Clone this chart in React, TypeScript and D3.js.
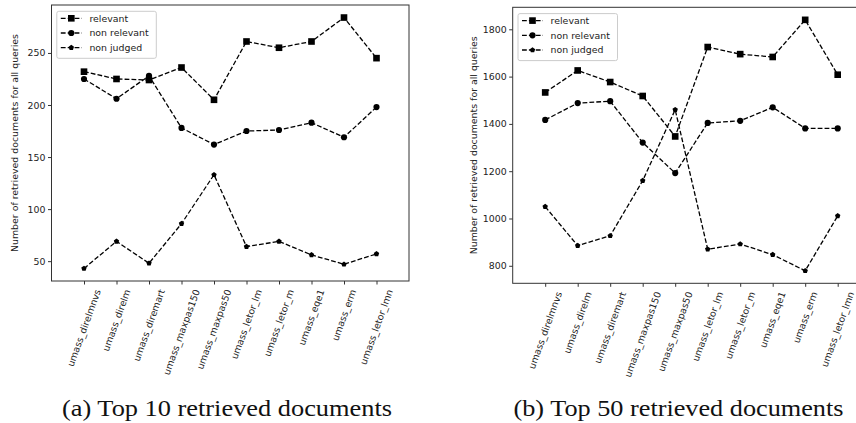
import React, { useRef, useEffect } from 'react';
import * as d3 from 'd3';

/* ── Data ────────────────────────────────────────────────────── */
const runs = [
  'umass_direlmnvs',
  'umass_direlm',
  'umass_diremart',
  'umass_maxpas150',
  'umass_maxpas50',
  'umass_letor_lm',
  'umass_letor_m',
  'umass_eqe1',
  'umass_erm',
  'umass_letor_lmn',
];

const top10Relevant = [232, 225, 224, 236, 205, 261, 255, 261, 284, 245];
const top10NonRelevant = [225, 206, 228, 178, 162, 175, 176, 183, 169, 198];
const top10NonJudged = [43, 69, 48, 86, 133, 64, 69, 56, 47, 57];

const top50Relevant = [1533, 1626, 1577, 1518, 1347, 1725, 1695, 1683, 1840, 1608];
const top50NonRelevant = [1417, 1488, 1496, 1321, 1192, 1404, 1413, 1470, 1381, 1381];
const top50NonJudged = [1050, 885, 927, 1160, 1460, 870, 892, 847, 779, 1011];

const seriesNames = ['relevant', 'non relevant', 'non judged'];
const yLabel = 'Number of retrieved documents for all queries';

/* ── Layout ──────────────────────────────────────────────────── */
const W = 856;
const H = 423;
const FONT = '"DejaVu Sans", sans-serif';
const FS = 9.4;

interface Panel {
  x0: number;
  x1: number;
  y0: number;
  y1: number;
  labelX: number;
  captionX: number;
  caption: string;
  series: number[][];
}

const panels: Panel[] = [
  {
    x0: 51.5, x1: 409, y0: 5, y1: 281, labelX: 15, captionX: 227,
    caption: '(a) Top 10 retrieved documents',
    series: [top10Relevant, top10NonRelevant, top10NonJudged],
  },
  {
    x0: 512.7, x1: 870.2, y0: 7.3, y1: 283.3, labelX: 474, captionX: 678.5,
    caption: '(b) Top 50 retrieved documents',
    series: [top50Relevant, top50NonRelevant, top50NonJudged],
  },
];

// pentagon marker (matplotlib 'p')
const pentagon: d3.SymbolType = {
  draw(ctx, size) {
    const r = Math.sqrt(size / 2.3776);
    for (let i = 0; i < 5; i++) {
      const a = -Math.PI / 2 + (i * 2 * Math.PI) / 5;
      const px = r * Math.cos(a);
      const py = r * Math.sin(a);
      if (i === 0) ctx.moveTo(px, py);
      else ctx.lineTo(px, py);
    }
    ctx.closePath();
  },
};

const markers = [
  d3.symbol(d3.symbolSquare, 44)(),
  d3.symbol(d3.symbolCircle, 30)(),
  d3.symbol(pentagon, 19)(),
];

const App: React.FC = () => {
  const ref = useRef<SVGSVGElement | null>(null);

  useEffect(() => {
    if (!ref.current) return;
    const svg = d3.select(ref.current);
    svg.selectAll('*').remove();

    panels.forEach(p => {
      const all = p.series.flat();
      const lo = d3.min(all)!;
      const hi = d3.max(all)!;
      const pad = (hi - lo) * 0.05;

      const x = d3.scaleLinear().domain([-1, 10]).range([p.x0, p.x1]);
      const y = d3.scaleLinear().domain([lo - pad, hi + pad]).range([p.y1, p.y0]);

      const g = svg.append('g');

      // lines + markers
      p.series.forEach((vals, si) => {
        const line = d3
          .line<number>()
          .x((_, i) => x(i))
          .y(d => y(d));
        g.append('path')
          .attr('d', line(vals)!)
          .attr('fill', 'none')
          .attr('stroke', '#000')
          .attr('stroke-width', 1.3)
          .attr('stroke-dasharray', '4.8,2.1');
        g.selectAll(null)
          .data(vals)
          .enter()
          .append('path')
          .attr('d', markers[si]!)
          .attr('transform', (d, i) => `translate(${x(i)},${y(d)})`)
          .attr('fill', '#000');
      });

      // frame
      g.append('rect')
        .attr('x', p.x0)
        .attr('y', p.y0)
        .attr('width', p.x1 - p.x0)
        .attr('height', p.y1 - p.y0)
        .attr('fill', 'none')
        .attr('stroke', '#333')
        .attr('stroke-width', 1);

      // y axis
      const ya = g
        .append('g')
        .attr('transform', `translate(${p.x0},0)`)
        .call(
          d3.axisLeft(y).ticks(5).tickFormat(d3.format('d')).tickSize(3.5).tickPadding(2.5)
        );
      ya.select('.domain').remove();
      ya.selectAll('line').attr('stroke', '#333');
      ya.selectAll('text')
        .attr('font-family', FONT)
        .attr('font-size', FS)
        .attr('fill', '#222');

      // x axis ticks
      const xa = g
        .append('g')
        .attr('transform', `translate(0,${p.y1})`)
        .call(
          d3
            .axisBottom(x)
            .tickValues(d3.range(runs.length))
            .tickSize(3.5)
            .tickFormat(() => '')
        );
      xa.select('.domain').remove();
      xa.selectAll('line').attr('stroke', '#333');

      // rotated run labels, bbox centred under tick (matplotlib rotation=70)
      const th = (70 * Math.PI) / 180;
      const top = p.y1 + 7;
      runs.forEach((r, i) => {
        const t = g
          .append('text')
          .attr('font-family', FONT)
          .attr('font-size', FS)
          .attr('fill', '#222')
          .attr('text-anchor', 'middle')
          .attr('dy', '0.35em')
          .text(r);
        const L = (t.node() as SVGTextElement).getComputedTextLength();
        const hBox = L * Math.sin(th) + FS * 1.1 * Math.cos(th);
        t.attr('transform', `translate(${x(i)},${top + hBox / 2}) rotate(-70)`);
      });

      // y label
      g.append('text')
        .attr('transform', `translate(${p.labelX},${(p.y0 + p.y1) / 2}) rotate(-90)`)
        .attr('text-anchor', 'middle')
        .attr('dy', '0.35em')
        .attr('font-family', FONT)
        .attr('font-size', FS)
        .attr('fill', '#222')
        .text(yLabel);

      // legend
      const lx = p.x0 + 5.3;
      const ly = p.y0 + 6.3;
      const lg = g.append('g').attr('transform', `translate(${lx},${ly})`);
      lg.append('rect')
        .attr('width', 99.5)
        .attr('height', 47)
        .attr('rx', 2)
        .attr('fill', '#fff')
        .attr('fill-opacity', 0.8)
        .attr('stroke', '#ccc')
        .attr('stroke-width', 1);
      seriesNames.forEach((name, si) => {
        const ry = 7 + si * 14.7;
        lg.append('line')
          .attr('x1', 4)
          .attr('x2', 25)
          .attr('y1', ry)
          .attr('y2', ry)
          .attr('stroke', '#000')
          .attr('stroke-width', 1.3)
          .attr('stroke-dasharray', '4.8,2.1');
        lg.append('path')
          .attr('d', markers[si]!)
          .attr('transform', `translate(14.5,${ry})`)
          .attr('fill', '#000');
        lg.append('text')
          .attr('x', 32.6)
          .attr('y', ry)
          .attr('dy', '0.35em')
          .attr('font-family', FONT)
          .attr('font-size', FS)
          .attr('fill', '#222')
          .text(name);
      });

      // caption
      svg.append('text')
        .attr('x', p.captionX)
        .attr('y', 416)
        .attr('text-anchor', 'middle')
        .attr('font-family', '"Liberation Serif", "DejaVu Serif", serif')
        .attr('font-size', 24)
        .attr('textLength', 330)
        .attr('lengthAdjust', 'spacingAndGlyphs')
        .attr('fill', '#111')
        .text(p.caption);
    });
  }, []);

  return (
    <svg
      ref={ref}
      width={W}
      height={H}
      style={{ position: 'absolute', left: 0, top: 0, background: '#fff' }}
    />
  );
};

export default App;
